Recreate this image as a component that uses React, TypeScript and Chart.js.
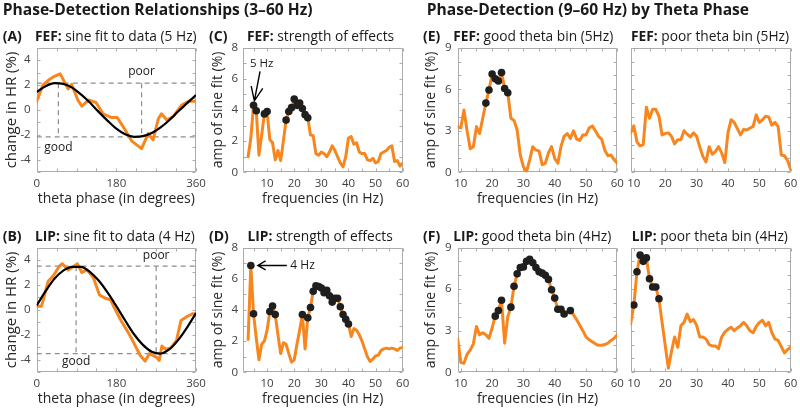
import React, { useEffect, useRef } from "react";
import { Chart, registerables } from "chart.js";

Chart.register(...registerables);

// ---------------- data ----------------
const FIT_PHASE = [0, 20, 40, 60, 80, 100, 120, 140, 160, 180, 200, 220, 240, 260, 280, 300, 320, 340, 360];

// (A) FEF: sine fit to data (5 Hz)
const PHASE_A = [0, 14, 27, 40, 53, 71, 79, 93, 102, 117, 134, 150, 168, 182, 200, 215, 237, 252, 263, 275, 282, 294, 309, 328, 343, 360];
const CHANGE_A = [0.7, 2.0, 2.4, 2.7, 2.9, 1.7, 2.05, 0.8, 0.3, 0.8, 0.6, -0.3, -0.6, -0.6, -1.6, -2.5, -3.1, -1.9, -2.4, -0.7, -0.3, -0.8, -0.5, 0.4, 0.7, 0.7];
const FIT_A = [1.45, 1.9, 2.15, 2.1, 1.8, 1.25, 0.6, -0.15, -0.85, -1.5, -1.95, -2.15, -2.1, -1.85, -1.4, -0.8, -0.1, 0.55, 1.2];
const GOOD_PHASE_A = 49;
const POOR_PHASE_A = 237;
const LEVEL_A = 2.15;

// (B) LIP: sine fit to data (4 Hz)
const PHASE_B = [0, 11, 26, 38, 51, 58, 71, 84, 92, 102, 114, 128, 142, 154, 167, 175, 192, 205, 216, 234, 245, 255, 271, 277, 283, 291, 303, 316, 326, 339, 353, 360];
const CHANGE_B = [0.3, 0.3, 2.3, 2.75, 3.5, 3.7, 3.2, 3.5, 3.7, 3.0, 3.2, 2.6, 1.2, 0.95, 0.8, 0.2, -0.95, -1.7, -2.4, -3.65, -4.1, -3.5, -3.8, -4.05, -2.9, -3.15, -3.05, -2.45, -0.85, -0.55, -0.3, -0.3];
const FIT_B = [0.35, 1.5, 2.5, 3.15, 3.45, 3.45, 3.05, 2.35, 1.4, 0.3, -0.85, -1.95, -2.8, -3.35, -3.5, -3.15, -2.4, -1.4, -0.25];
const GOOD_PHASE_B = 89;
const POOR_PHASE_B = 270;
const LEVEL_B = 3.5;

// (C) / (D) strength of effects, 3–60 Hz
const FREQ_3_60 = [3, 4, 5, 6, 7, 8, 9, 10, 11, 12, 13, 14, 15, 16, 17, 18, 19, 20, 21, 22, 23, 24, 25, 26, 27, 28, 29, 30, 31, 32, 33, 34, 35, 36, 37, 38, 39, 40, 41, 42, 43, 44, 45, 46, 47, 48, 49, 50, 51, 52, 53, 54, 55, 56, 57, 58, 59, 60];
const AMP_FEF = [1.0, 2.2, 4.3, 3.95, 1.1, 2.4, 3.75, 3.9, 2.1, 1.9, 0.8, 1.4, 0.75, 2.0, 3.35, 3.9, 4.15, 4.7, 4.3, 4.45, 4.1, 3.7, 3.5, 2.4, 2.35, 1.2, 1.1, 1.3, 1.2, 1.0, 1.3, 1.7, 1.4, 1.0, 0.6, 0.35, 1.0, 2.2, 2.3, 1.8, 1.9, 1.3, 1.2, 1.2, 0.8, 0.75, 0.9, 0.6, 0.7, 1.2, 1.3, 1.4, 1.6, 1.7, 0.7, 0.75, 0.4, 0.6];
const SIG_FEF = [5, 6, 9, 10, 17, 18, 19, 20, 21, 22, 23, 24, 25];
const AMP_LIP = [2.1, 6.85, 3.75, 2.2, 0.8, 1.8, 2.0, 2.7, 3.9, 4.25, 3.7, 2.4, 1.2, 1.9, 1.8, 1.2, 0.65, 0.8, 1.8, 2.7, 3.7, 1.5, 3.5, 4.15, 5.2, 5.55, 5.5, 5.4, 5.1, 5.25, 4.9, 4.5, 4.75, 4.75, 4.2, 3.7, 3.4, 3.1, 2.3, 2.8, 2.7, 2.4, 2.0, 1.5, 1.0, 0.7, 0.85, 1.05, 1.1, 1.4, 1.5, 1.55, 1.5, 1.55, 1.5, 1.4, 1.55, 1.6];
const SIG_LIP = [4, 5, 11, 12, 13, 23, 25, 26, 27, 28, 29, 30, 31, 32, 33, 34, 35, 36, 37, 38, 39, 40];
const PEAK_FEF = 5;
const PEAK_LIP = 4;

// (E) / (F) by theta phase, 9–60 Hz
const FREQ_9_60 = [9, 10, 11, 12, 13, 14, 15, 16, 17, 18, 19, 20, 21, 22, 23, 24, 25, 26, 27, 28, 29, 30, 31, 32, 33, 34, 35, 36, 37, 38, 39, 40, 41, 42, 43, 44, 45, 46, 47, 48, 49, 50, 51, 52, 53, 54, 55, 56, 57, 58, 59, 60];
const AMP_FEF_GOOD = [3.3, 3.2, 4.5, 3.0, 1.7, 1.85, 3.3, 2.8, 3.9, 5.0, 5.95, 7.1, 6.75, 6.6, 7.2, 6.05, 5.75, 3.9, 3.75, 3.05, 1.25, 0.4, 0.05, 0.9, 1.85, 1.6, 1.55, 0.55, 0.65, 1.4, 1.85, 1.0, 0.65, 1.85, 2.6, 2.8, 2.45, 3.0, 2.4, 2.3, 2.7, 2.7, 3.2, 3.35, 3.0, 2.6, 2.4, 1.6, 1.2, 1.25, 0.9, 0.65];
const SIG_FEF_GOOD = [18, 19, 20, 21, 22, 23, 24, 25];
const AMP_FEF_POOR = [2.85, 3.35, 2.2, 1.9, 2.0, 4.7, 3.9, 4.55, 4.55, 4.05, 2.7, 2.8, 2.85, 2.6, 2.05, 2.35, 2.35, 3.0, 2.75, 2.55, 2.85, 2.6, 1.85, 1.15, 0.75, 1.85, 1.3, 1.5, 1.85, 1.4, 0.7, 2.85, 3.8, 3.6, 3.15, 2.7, 3.1, 3.05, 3.2, 3.3, 4.15, 3.6, 3.8, 4.05, 4.0, 3.4, 3.6, 3.3, 1.25, 1.2, 0.85, 0.2];
const SIG_FEF_POOR: number[] = [];
const AMP_LIP_GOOD = [2.4, 0.7, 0.65, 1.3, 1.6, 2.05, 3.3, 2.7, 2.85, 2.7, 2.45, 3.2, 4.05, 4.45, 5.2, 2.1, 4.0, 4.7, 6.2, 7.1, 7.55, 7.6, 8.0, 8.15, 7.9, 7.55, 7.25, 7.15, 7.0, 6.7, 5.95, 5.35, 4.55, 4.55, 4.2, 4.25, 4.45, 4.15, 3.8, 3.4, 3.0, 2.55, 2.35, 2.2, 2.05, 1.95, 1.95, 2.0, 2.1, 2.3, 2.45, 2.7];
const SIG_LIP_GOOD = [21, 22, 23, 26, 27, 28, 29, 30, 31, 32, 33, 34, 35, 36, 37, 38, 39, 40, 41, 42, 43, 45];
const AMP_LIP_POOR = [3.5, 4.85, 7.25, 8.45, 8.0, 8.25, 6.75, 6.15, 6.15, 5.3, 3.6, 1.95, 0.3, 1.5, 2.55, 1.8, 3.35, 3.6, 4.2, 3.65, 3.8, 3.4, 2.55, 2.55, 2.4, 2.0, 1.9, 1.9, 1.7, 2.55, 2.9, 3.1, 3.25, 3.0, 3.2, 3.35, 3.6, 3.35, 3.0, 2.85, 3.3, 3.6, 3.75, 3.35, 3.6, 2.85, 2.4, 2.3, 1.85, 1.4, 1.65, 1.8];
const SIG_LIP_POOR = [10, 11, 12, 13, 14, 15, 16, 17, 18];

// tick labels and minor ticks
const PHASE_TICKS = [0, 180, 360];
const PHASE_MINOR = [0, 45, 90, 135, 180, 225, 270, 315, 360];
const HR_TICKS = [-4, -2, 0, 2, 4];
const HR_MINOR = [-5, -4, -3, -2, -1, 0, 1, 2, 3, 4, 5];
const FREQ_TICKS = [10, 20, 30, 40, 50, 60];
const FREQ_MINOR = [5, 10, 15, 20, 25, 30, 35, 40, 45, 50, 55, 60];
const AMP8_TICKS = [0, 2, 4, 6, 8];
const AMP8_MINOR = [0, 1, 2, 3, 4, 5, 6, 7, 8];
const AMP9_TICKS = [0, 3, 6, 9];
const AMP9_MINOR = [0, 1, 2, 3, 4, 5, 6, 7, 8, 9];

// ---------------- style ----------------
const W = 800;
const H = 408;
const ORANGE = "#f7861f";
const DOT = "#1f1f1f";
const DASH = "#8c8c8c";
const BOX = "#ababab";
const TICK_TEXT = "#404040";
const AXIS_TEXT = "#262626";
const TITLE_TEXT = "#1a1a1a";
const FONT = '"Open Sans", "Noto Sans", sans-serif';
const TICK_SIZE = 11.5;
const AXIS_TITLE_SIZE = 14;
const TICK_LEN = 3;

type Pt = { x: number; y: number };
const pts = (xs: number[], ys: number[]): Pt[] => xs.map((x, i) => ({ x, y: ys[i] }));
const sigPts = (xs: number[], ys: number[], sig: number[]): Pt[] =>
  sig.map((f) => ({ x: f, y: ys[xs.indexOf(f)] }));

const orangeDs = (data: Pt[]) => ({
  data, borderColor: ORANGE, borderWidth: 3, pointRadius: 0, tension: 0,
  borderJoinStyle: "round", borderCapStyle: "round", fill: false,
});
const dotDs = (data: Pt[]) => ({
  data, showLine: false, pointRadius: 3.8, pointBackgroundColor: DOT,
  pointBorderColor: DOT, pointBorderWidth: 0, borderWidth: 0,
});
const dashDs = (data: Pt[]) => ({
  data, borderColor: DASH, borderWidth: 1.2, borderDash: [5, 4], pointRadius: 0, tension: 0, fill: false,
});
const fitDs = (data: Pt[]) => ({
  data, borderColor: "#000", borderWidth: 2.2, pointRadius: 0, cubicInterpolationMode: "monotone", fill: false,
});

type Area = { l: number; r: number; t: number; b: number };
type Spec = {
  id: string;
  area: Area;
  xMin: number; xMax: number; yMin: number; yMax: number;
  xTicks: number[]; yTicks: number[]; xMinor: number[]; yMinor: number[];
  xTitle?: string; xTitleY?: number;
  yTitle?: string; yTitleX?: number; yTitleSize?: number;
  showYLabels: boolean;
  yLabelPad: number;
  datasets: any[];
  annotate?: (chart: any) => void;
};

const phaseDatasets = (phase: number[], change: number[], fit: number[], good: number, poor: number, lvl: number) => [
  fitDs(pts(FIT_PHASE, fit)),
  orangeDs(pts(phase, change)),
  dashDs([{ x: 0, y: lvl }, { x: 360, y: lvl }]),
  dashDs([{ x: 0, y: -lvl }, { x: 360, y: -lvl }]),
  dashDs([{ x: good, y: lvl }, { x: good, y: -lvl }]),
  dashDs([{ x: poor, y: lvl }, { x: poor, y: -lvl }]),
];

const freqDatasets = (f: number[], amp: number[], sig: number[]) => [
  dotDs(sigPts(f, amp, sig)),
  orangeDs(pts(f, amp)),
];

function goodPoorLabels(good: number, poor: number, lvl: number, dyPoor: number, dyGood: number) {
  return (chart: any) => {
    const { ctx } = chart;
    const x = chart.scales.x, y = chart.scales.y;
    ctx.save();
    ctx.fillStyle = TITLE_TEXT;
    ctx.font = `12px ${FONT}`;
    ctx.textAlign = "center";
    ctx.textBaseline = "middle";
    ctx.fillText("poor", x.getPixelForValue(poor), y.getPixelForValue(lvl) + dyPoor);
    ctx.fillText("good", x.getPixelForValue(good), y.getPixelForValue(-lvl) + dyGood);
    ctx.restore();
  };
}

function drawArrow(ctx: any, fx: number, fy: number, tx: number, ty: number, head: number, angDeg: number) {
  const a = Math.atan2(fy - ty, fx - tx);
  const d = (angDeg * Math.PI) / 180;
  ctx.beginPath();
  ctx.moveTo(fx, fy);
  ctx.lineTo(tx, ty);
  ctx.moveTo(tx + head * Math.cos(a + d), ty + head * Math.sin(a + d));
  ctx.lineTo(tx, ty);
  ctx.lineTo(tx + head * Math.cos(a - d), ty + head * Math.sin(a - d));
  ctx.stroke();
}

const AREA_TOP = { t: 47.7, b: 172.3 };
const AREA_BOT = { t: 247.5, b: 372.3 };

const SPECS: Spec[] = [
  {
    id: "A", area: { l: 36.7, r: 196, ...AREA_TOP },
    xMin: 0, xMax: 360, yMin: -5, yMax: 5,
    xTicks: PHASE_TICKS, yTicks: HR_TICKS, xMinor: PHASE_MINOR, yMinor: HR_MINOR,
    xTitle: "theta phase (in degrees)", xTitleY: 199, yTitle: "change in HR (%)", yTitleX: 11.5, yTitleSize: 15,
    showYLabels: true, yLabelPad: 6,
    datasets: phaseDatasets(PHASE_A, CHANGE_A, FIT_A, GOOD_PHASE_A, POOR_PHASE_A, LEVEL_A),
    annotate: goodPoorLabels(GOOD_PHASE_A, POOR_PHASE_A, LEVEL_A, -11.5, 10.5),
  },
  {
    id: "B", area: { l: 36.7, r: 196, ...AREA_BOT },
    xMin: 0, xMax: 360, yMin: -5, yMax: 5,
    xTicks: PHASE_TICKS, yTicks: HR_TICKS, xMinor: PHASE_MINOR, yMinor: HR_MINOR,
    xTitle: "theta phase (in degrees)", xTitleY: 399, yTitle: "change in HR (%)", yTitleX: 11.5, yTitleSize: 15,
    showYLabels: true, yLabelPad: 6,
    datasets: phaseDatasets(PHASE_B, CHANGE_B, FIT_B, GOOD_PHASE_B, POOR_PHASE_B, LEVEL_B),
    annotate: goodPoorLabels(GOOD_PHASE_B, POOR_PHASE_B, LEVEL_B, -10.5, 8),
  },
  {
    id: "C", area: { l: 242.7, r: 402.7, ...AREA_TOP },
    xMin: 1, xMax: 60, yMin: 0, yMax: 8,
    xTicks: FREQ_TICKS, yTicks: AMP8_TICKS, xMinor: FREQ_MINOR, yMinor: AMP8_MINOR,
    xTitle: "frequencies (in Hz)", xTitleY: 199, yTitle: "amp of sine fit (%)", yTitleX: 218,
    showYLabels: true, yLabelPad: 4.5,
    datasets: freqDatasets(FREQ_3_60, AMP_FEF, SIG_FEF),
    annotate: (chart: any) => {
      const { ctx } = chart;
      const px = chart.scales.x.getPixelForValue(PEAK_FEF);
      const py = chart.scales.y.getPixelForValue(AMP_FEF[FREQ_3_60.indexOf(PEAK_FEF)]);
      ctx.save();
      ctx.strokeStyle = "#000";
      ctx.lineWidth = 1.4;
      drawArrow(ctx, px + 6.5, py - 34, px + 0.8, py - 4.5, 15, 23);
      ctx.fillStyle = TITLE_TEXT;
      ctx.font = `11.5px ${FONT}`;
      ctx.textAlign = "center";
      ctx.textBaseline = "middle";
      ctx.fillText("5 Hz", px + 8.2, py - 41.5);
      ctx.restore();
    },
  },
  {
    id: "D", area: { l: 242.7, r: 402.7, ...AREA_BOT },
    xMin: 1, xMax: 60, yMin: 0, yMax: 8,
    xTicks: FREQ_TICKS, yTicks: AMP8_TICKS, xMinor: FREQ_MINOR, yMinor: AMP8_MINOR,
    xTitle: "frequencies (in Hz)", xTitleY: 399, yTitle: "amp of sine fit (%)", yTitleX: 218,
    showYLabels: true, yLabelPad: 4.5,
    datasets: freqDatasets(FREQ_3_60, AMP_LIP, SIG_LIP),
    annotate: (chart: any) => {
      const { ctx } = chart;
      const px = chart.scales.x.getPixelForValue(PEAK_LIP);
      const py = chart.scales.y.getPixelForValue(AMP_LIP[FREQ_3_60.indexOf(PEAK_LIP)]);
      ctx.save();
      ctx.strokeStyle = "#000";
      ctx.lineWidth = 1.4;
      drawArrow(ctx, px + 36, py, px + 7, py, 9, 30);
      ctx.fillStyle = TITLE_TEXT;
      ctx.font = `12px ${FONT}`;
      ctx.textAlign = "left";
      ctx.textBaseline = "middle";
      ctx.fillText("4 Hz", px + 39.5, py);
      ctx.restore();
    },
  },
  {
    id: "E1", area: { l: 457.7, r: 617.3, ...AREA_TOP },
    xMin: 9, xMax: 60, yMin: 0, yMax: 9,
    xTicks: FREQ_TICKS, yTicks: AMP9_TICKS, xMinor: FREQ_MINOR, yMinor: AMP9_MINOR,
    xTitle: "frequencies (in Hz)", xTitleY: 199, yTitle: "amp of sine fit (%)", yTitleX: 431,
    showYLabels: true, yLabelPad: 6,
    datasets: freqDatasets(FREQ_9_60, AMP_FEF_GOOD, SIG_FEF_GOOD),
  },
  {
    id: "E2", area: { l: 630.7, r: 790.7, ...AREA_TOP },
    xMin: 9, xMax: 60, yMin: 0, yMax: 9,
    xTicks: FREQ_TICKS, yTicks: AMP9_TICKS, xMinor: FREQ_MINOR, yMinor: AMP9_MINOR,
    showYLabels: false, yLabelPad: 6,
    datasets: freqDatasets(FREQ_9_60, AMP_FEF_POOR, SIG_FEF_POOR),
  },
  {
    id: "F1", area: { l: 457.7, r: 617.3, ...AREA_BOT },
    xMin: 9, xMax: 60, yMin: 0, yMax: 9,
    xTicks: FREQ_TICKS, yTicks: AMP9_TICKS, xMinor: FREQ_MINOR, yMinor: AMP9_MINOR,
    xTitle: "frequencies (in Hz)", xTitleY: 399, yTitle: "amp of sine fit (%)", yTitleX: 431,
    showYLabels: true, yLabelPad: 6,
    datasets: freqDatasets(FREQ_9_60, AMP_LIP_GOOD, SIG_LIP_GOOD),
  },
  {
    id: "F2", area: { l: 630.7, r: 790.7, ...AREA_BOT },
    xMin: 9, xMax: 60, yMin: 0, yMax: 9,
    xTicks: FREQ_TICKS, yTicks: AMP9_TICKS, xMinor: FREQ_MINOR, yMinor: AMP9_MINOR,
    showYLabels: false, yLabelPad: 6,
    datasets: freqDatasets(FREQ_9_60, AMP_LIP_POOR, SIG_LIP_POOR),
  },
];

function buildConfig(s: Spec) {
  const yTitleSize = s.yTitleSize || AXIS_TITLE_SIZE;
  const yTitleLH = yTitleSize * 1.2;
  const xTitleLH = AXIS_TITLE_SIZE * 1.2;
  const tickLH = TICK_SIZE * 1.2;
  const padLeft = s.yTitle ? (s.yTitleX as number) - yTitleLH / 2 : s.area.l - 8;
  const yW = s.area.l - padLeft;
  const xH = s.xTitle ? (s.xTitleY as number) - s.area.b + xTitleLH / 2 : 26;
  const padBottom = H - (s.area.b + xH);
  const xTickPad = 11 - tickLH / 2;

  const zeroPad = (sc: any) => {
    sc.paddingLeft = 0; sc.paddingRight = 0; sc.paddingTop = 0; sc.paddingBottom = 0;
  };

  const boxPlugin = {
    id: "box" + s.id,
    beforeDatasetsDraw(chart: any) {
      const { ctx, chartArea: a } = chart;
      const x = chart.scales.x, y = chart.scales.y;
      const L = Math.round(a.left) + 0.5, R = Math.round(a.right) - 0.5;
      const T = Math.round(a.top) + 0.5, B = Math.round(a.bottom) - 0.5;
      ctx.save();
      ctx.strokeStyle = BOX;
      ctx.lineWidth = 1;
      ctx.beginPath();
      ctx.rect(L, T, R - L, B - T);
      for (const v of s.xMinor) {
        if (v < s.xMin || v > s.xMax) continue;
        const p = Math.round(x.getPixelForValue(v)) + 0.5;
        ctx.moveTo(p, B); ctx.lineTo(p, B - TICK_LEN);
        ctx.moveTo(p, T); ctx.lineTo(p, T + TICK_LEN);
      }
      for (const v of s.yMinor) {
        if (v < s.yMin || v > s.yMax) continue;
        const p = Math.round(y.getPixelForValue(v)) + 0.5;
        ctx.moveTo(L, p); ctx.lineTo(L + TICK_LEN, p);
        ctx.moveTo(R, p); ctx.lineTo(R - TICK_LEN, p);
      }
      ctx.stroke();
      ctx.restore();
    },
  };
  const annotPlugin = {
    id: "annot" + s.id,
    afterDatasetsDraw(chart: any) {
      if (s.annotate) s.annotate(chart);
    },
  };

  const tickFont = { family: FONT, size: TICK_SIZE };

  return {
    type: "line",
    data: { datasets: s.datasets },
    options: {
      responsive: false,
      animation: false,
      events: [],
      layout: {
        autoPadding: false,
        padding: { left: padLeft, right: W - s.area.r, top: s.area.t, bottom: padBottom },
      },
      plugins: { legend: { display: false }, tooltip: { enabled: false }, title: { display: false } },
      scales: {
        x: {
          type: "linear",
          min: s.xMin,
          max: s.xMax,
          grid: { display: false, drawTicks: false },
          border: { display: false },
          ticks: {
            color: TICK_TEXT, font: tickFont, padding: xTickPad, autoSkip: false, maxRotation: 0,
            callback: (v: any) => String(v),
          },
          afterBuildTicks: (sc: any) => { sc.ticks = s.xTicks.map((v) => ({ value: v })); },
          afterFit: (sc: any) => { sc.height = xH; zeroPad(sc); },
          title: {
            display: !!s.xTitle, text: s.xTitle || "", color: AXIS_TEXT,
            font: { family: FONT, size: AXIS_TITLE_SIZE }, padding: 0,
          },
        },
        y: {
          type: "linear",
          min: s.yMin,
          max: s.yMax,
          grid: { display: false, drawTicks: false },
          border: { display: false },
          ticks: {
            display: s.showYLabels, color: TICK_TEXT, font: tickFont, padding: s.yLabelPad, autoSkip: false,
            callback: (v: any) => String(v),
          },
          afterBuildTicks: (sc: any) => { sc.ticks = s.yTicks.map((v) => ({ value: v })); },
          afterFit: (sc: any) => { sc.width = yW; zeroPad(sc); },
          title: {
            display: !!s.yTitle, text: s.yTitle || "", color: AXIS_TEXT,
            font: { family: FONT, size: yTitleSize }, padding: 0,
          },
        },
      },
    },
    plugins: [boxPlugin, annotPlugin],
  };
}

function PanelChart({ spec }: { spec: Spec }) {
  const ref = useRef<HTMLCanvasElement>(null);
  useEffect(() => {
    const chart = new Chart(ref.current as HTMLCanvasElement, buildConfig(spec) as any);
    return () => chart.destroy();
  }, [spec]);
  return (
    <canvas
      ref={ref}
      width={W}
      height={H}
      style={{ position: "absolute", left: 0, top: 0, width: W, height: H }}
    />
  );
}

function T({ x, y, size, bold, children }: { x: number; y: number; size: number; bold?: boolean; children: React.ReactNode }) {
  return (
    <div
      style={{
        position: "absolute", left: x, top: y, transform: "translateY(-50%)",
        fontSize: size, fontWeight: bold ? 700 : 400, lineHeight: 1, whiteSpace: "nowrap", color: TITLE_TEXT,
      }}
    >
      {children}
    </div>
  );
}

function PanelTitle({ x, y, region, rest }: { x: number; y: number; region: string; rest: string }) {
  return (
    <T x={x} y={y} size={13.75}>
      <b>{region}</b> {rest}
    </T>
  );
}

export default function App() {
  return (
    <div
      style={{
        position: "absolute", left: 0, top: 0, width: W, height: H, background: "#fff",
        overflow: "hidden", fontFamily: FONT,
      }}
    >
      {SPECS.map((s) => (
        <PanelChart key={s.id} spec={s} />
      ))}
      <T x={2.7} y={9.8} size={15.6} bold>Phase-Detection Relationships (3–60 Hz)</T>
      <T x={426.7} y={9.8} size={15.6} bold>Phase-Detection (9–60 Hz) by Theta Phase</T>

      <T x={2.7} y={35.5} size={14} bold>(A)</T>
      <PanelTitle x={35} y={35.5} region="FEF:" rest="sine fit to data (5 Hz)" />
      <T x={2.7} y={236} size={14} bold>(B)</T>
      <PanelTitle x={35} y={236} region="LIP:" rest="sine fit to data (4 Hz)" />

      <T x={209} y={35.5} size={14} bold>(C)</T>
      <PanelTitle x={247} y={35.5} region="FEF:" rest="strength of effects" />
      <T x={209} y={236} size={14} bold>(D)</T>
      <PanelTitle x={247.5} y={236} region="LIP:" rest="strength of effects" />

      <T x={423} y={35.5} size={14} bold>(E)</T>
      <PanelTitle x={453.3} y={35.5} region="FEF:" rest="good theta bin (5Hz)" />
      <PanelTitle x={631} y={35.5} region="FEF:" rest="poor theta bin (5Hz)" />
      <T x={423} y={236} size={14} bold>(F)</T>
      <PanelTitle x={453.3} y={236} region="LIP:" rest="good theta bin (4Hz)" />
      <PanelTitle x={631.7} y={236} region="LIP:" rest="poor theta bin (4Hz)" />
    </div>
  );
}
